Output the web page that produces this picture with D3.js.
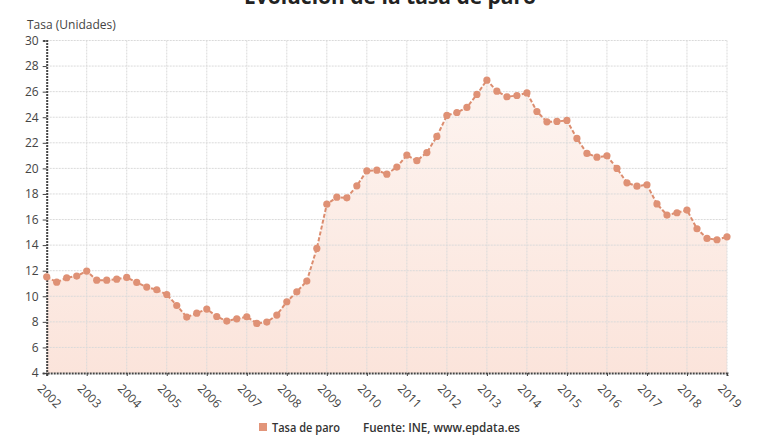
<!DOCTYPE html>
<html><head><meta charset="utf-8">
<script src="https://cdn.jsdelivr.net/npm/d3@7"></script>
<style>body{margin:0;background:#fff}svg{display:block;font-family:"Open Sans",sans-serif}</style>
</head><body>
<svg id="c" width="780" height="440"></svg>
<script>
const title = "Evolución de la tasa de paro";
const yAxisTitle = "Tasa (Unidades)";
const seriesName = "Tasa de paro";
const sourceText = "Fuente: INE, www.epdata.es";
const years = [2002,2003,2004,2005,2006,2007,2008,2009,2010,2011,2012,2013,2014,2015,2016,2017,2018,2019];
const yTicks = [4,6,8,10,12,14,16,18,20,22,24,26,28,30];
// quarterly values 2002T1 .. 2019T1
const values = [
 11.52,11.10,11.45,11.58, 11.97,11.26,11.26,11.34,
 11.47,11.08,10.72,10.51, 10.14,9.28,8.37,8.68,
 9.00,8.42,8.06,8.24, 8.40,7.88,7.98,8.53,
 9.57,10.35,11.19,13.74, 17.20,17.75,17.70,18.64,
 19.81,19.86,19.55,20.10, 21.04,20.60,21.24,22.50,
 24.14,24.37,24.77,25.78, 26.90,26.04,25.60,25.70,
 25.90,24.45,23.64,23.67, 23.75,22.34,21.17,20.88,
 20.98,20.00,18.87,18.61, 18.72,17.22,16.35,16.53,
 16.74,15.28,14.52,14.42, 14.65
];
const data = values.map((v,i)=>({t: 2002 + i/4, v}));

const svg = d3.select("#c");
const x = d3.scaleLinear().domain([2002,2019]).range([46.7,727]);
const y = d3.scaleLinear().domain([4,30]).range([373,40.5]);

const defs = svg.append("defs");
const g = defs.append("linearGradient").attr("id","fillg").attr("x1",0).attr("x2",0).attr("y1",0).attr("y2",1);
g.append("stop").attr("offset","0%").attr("stop-color","#fdf4f0");
g.append("stop").attr("offset","100%").attr("stop-color","#fbe4db");

// title (partially cut at top)
svg.append("text").attr("x",390).attr("y",4).attr("text-anchor","middle")
  .attr("font-size",21).attr("font-weight",700).attr("fill","#222").text(title);

svg.append("text").attr("x",27).attr("y",29).attr("font-size",12).attr("fill","#444").text(yAxisTitle);

// area
svg.append("path").datum(data)
  .attr("d", d3.area().x(d=>x(d.t)).y0(y(4)).y1(d=>y(d.v)))
  .attr("fill","url(#fillg)");

// grid
const grid = svg.append("g");
grid.selectAll(".hg").data(yTicks.filter(t=>t>4)).join("line")
  .attr("x1",x(2002)).attr("x2",x(2019)).attr("y1",d=>y(d)).attr("y2",d=>y(d))
  .attr("stroke","#dadada").attr("stroke-width",1).attr("stroke-dasharray","2,1");
grid.selectAll(".vg").data(years.slice(1)).join("line")
  .attr("x1",d=>x(d)).attr("x2",d=>x(d)).attr("y1",y(30)).attr("y2",y(4))
  .attr("stroke","#dadada").attr("stroke-width",1).attr("stroke-dasharray","2,1");

// axes
const yAxis = svg.append("g").attr("transform",`translate(${x(2002)},0)`)
  .call(d3.axisLeft(y).tickValues(yTicks).tickSize(4).tickPadding(4).tickFormat(d3.format("d")));
yAxis.select(".domain").attr("stroke","#444").attr("stroke-width",2).attr("stroke-dasharray","2,1");
yAxis.selectAll(".tick line").attr("stroke","#444");
yAxis.selectAll("text").attr("font-size",12).attr("fill","#444").attr("font-family","Open Sans");

const xAxis = svg.append("g").attr("transform",`translate(0,${y(4)})`)
  .call(d3.axisBottom(x).tickValues(years).tickSize(3).tickFormat(d3.format("d")));
xAxis.select(".domain").attr("stroke","#444").attr("stroke-width",2).attr("stroke-dasharray","2,1");
xAxis.selectAll(".tick line").attr("stroke","#444");
xAxis.selectAll("text").attr("font-size",12).attr("fill","#444").attr("font-family","Open Sans")
  .attr("text-anchor","start").attr("dy",null).attr("y",0)
  .attr("transform","translate(-3,9) rotate(45)").attr("dominant-baseline","hanging");

// line
svg.append("path").datum(data)
  .attr("d", d3.line().x(d=>x(d.t)).y(d=>y(d.v)))
  .attr("fill","none").attr("stroke","#dc8d6f").attr("stroke-width",2).attr("stroke-dasharray","4,2");
svg.append("g").selectAll("circle").data(data).join("circle")
  .attr("cx",d=>x(d.t)).attr("cy",d=>y(d.v)).attr("r",3.6).attr("fill","#df9175");

// legend
svg.append("rect").attr("x",259).attr("y",423).attr("width",8).attr("height",8).attr("fill","#e2957a");
svg.append("text").attr("x",272).attr("y",432).attr("font-size",12).attr("font-weight",600).attr("fill","#333")
  .attr("textLength",68).attr("lengthAdjust","spacingAndGlyphs").text(seriesName);
svg.append("text").attr("x",363).attr("y",432).attr("font-size",12).attr("font-weight",600).attr("fill","#333")
  .attr("textLength",157).attr("lengthAdjust","spacingAndGlyphs").text(sourceText);
</script>
</body></html>
